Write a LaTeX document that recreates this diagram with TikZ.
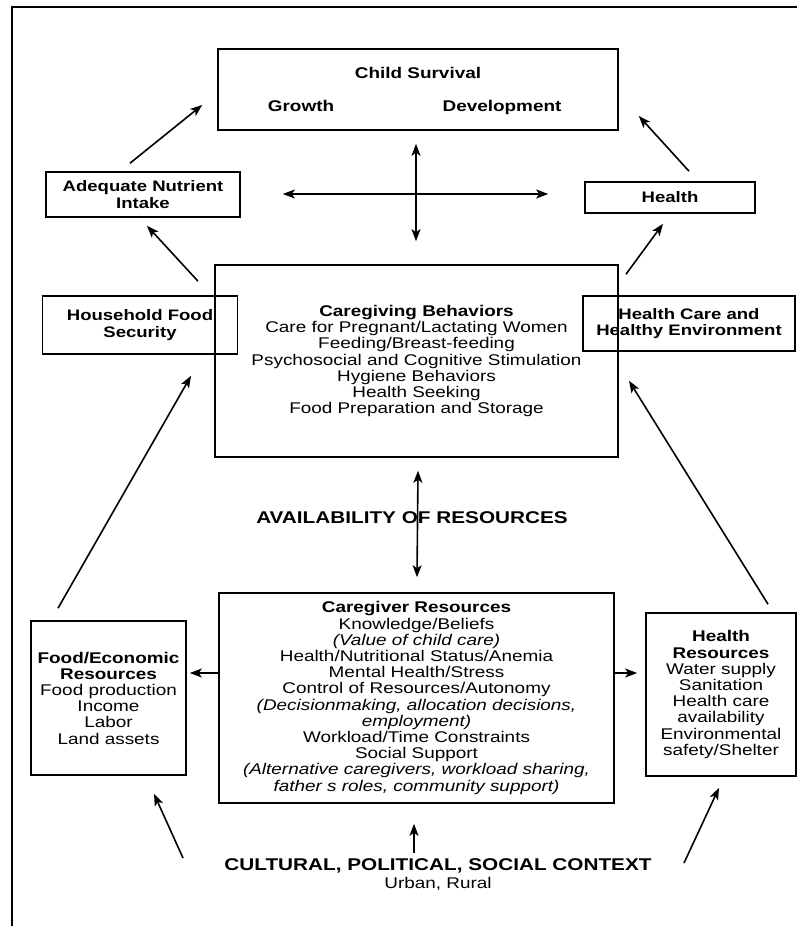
\documentclass[tikz,border=0pt]{standalone}
\usepackage{fontspec}
\setmainfont{Liberation Sans}[FakeStretch=1.22]
\usetikzlibrary{arrows.meta, positioning}
\newcommand\boxfont{\fontsize{15.5}{16.2}\selectfont}
\newcommand\bigfont{\fontsize{17}{19}\selectfont\bfseries}

\begin{document}
\begin{tikzpicture}[x=1pt, y=-1pt,
    >={Stealth[length=12pt, width=9pt, inset=3pt]},
    box/.style={draw, line width=1.6pt, inner sep=0pt, align=center, font=\boxfont},
    boldbox/.style={box, font=\fontsize{15.2}{16.2}\selectfont\bfseries},
    txt/.style={inner sep=0pt, anchor=base, font=\boxfont\bfseries},
    link/.style={->, line width=1.6pt}]

  \useasboundingbox (0,0) rectangle (797,926);

  % frame
  \draw[line width=1.6pt] (12,926) -- (12,7) -- (797,7);

  % outcomes
  \node[box, minimum width=400pt, minimum height=81pt] (child) at (418,89.5) {};
  \node[txt] (survival) at (418,78) {Child Survival};
  \node[txt] (growth) at (301,111) {Growth};
  \node[txt] (develop) at (502,111) {Development};

  \node[boldbox, minimum width=194pt, minimum height=45pt] (intake) at (143,194.5)
        {Adequate Nutrient\\Intake};
  \node[boldbox, minimum width=170pt, minimum height=31pt] (health) at (670,197.5)
        {Health};

  % caregiving behaviors and its neighbours
  \node[boldbox, minimum width=195pt, minimum height=58pt] (foodsec) at (140,325)
        {Household Food\\Security};
  \node[box, minimum width=403pt, minimum height=192pt] (behav) at (416.5,361)
        {\textbf{Caregiving Behaviors}\\
         Care for Pregnant/Lactating Women\\
         Feeding/Breast-feeding\\
         Psychosocial and Cognitive Stimulation\\
         Hygiene Behaviors\\
         Health Seeking\\
         Food Preparation and Storage};
  \node[boldbox, minimum width=212pt, minimum height=55pt] (healthenv) at (689,323.5)
        {Health Care and\\Healthy Environment};

  \node[inner sep=0pt, font=\bigfont] (avail) at (412,518) {AVAILABILITY OF RESOURCES};

  % resources
  \node[box, minimum width=155pt, minimum height=154pt] (food) at (108.5,698)
        {\textbf{Food/Economic}\\
         \textbf{Resources}\\
         Food production\\
         Income\\
         Labor\\
         Land assets};
  \node[box, minimum width=395pt, minimum height=210pt] (giver) at (416.5,698)
        {\textbf{Caregiver Resources}\\
         Knowledge/Beliefs\\
         \textit{(Value of child care)}\\
         Health/Nutritional Status/Anemia\\
         Mental Health/Stress\\
         Control of Resources/Autonomy\\
         \textit{(Decisionmaking, allocation decisions,}\\
         \textit{employment)}\\
         Workload/Time Constraints\\
         Social Support\\
         \textit{(Alternative caregivers, workload sharing,}\\
         \textit{father s roles, community support)}};
  \node[box, minimum width=150pt, minimum height=163pt] (hres) at (721,694.5)
        {\textbf{Health}\\
         \textbf{Resources}\\
         Water supply\\
         Sanitation\\
         Health care\\
         availability\\
         Environmental\\
         safety/Shelter};

  % context
  \node[inner sep=0pt, font=\bigfont] (context) at (438,866)
        {CULTURAL, POLITICAL, SOCIAL CONTEXT};
  \node[inner sep=0pt, font=\boxfont, below=4pt of context] (setting) {Urban, Rural};

  % arrows up to the outcomes
  \draw[link] ([shift={(-13,-8)}]intake.north) -- ([shift={(-15,15.5)}]child.west);
  \draw[link] ([shift={(19,-10)}]health.north) -- ([shift={(20,26.5)}]child.east);
  \draw[link] ([shift={(58,-14)}]foodsec.north) -- ([shift={(4,8)}]intake.south);
  \draw[link] ([shift={(-63,-21)}]healthenv.north) -- ([shift={(-7,10)}]health.south);
  \draw[link] ([shift={(-50.5,-12)}]food.north) -- ([shift={(51,21)}]foodsec.south);
  \draw[link] ([shift={(47,-8)}]hres.north) -- ([shift={(-60,29)}]healthenv.south);

  % double arrows
  \draw[link, <->] ([shift={(42,-0.5)}]intake.east) -- ([shift={(-36,-3.5)}]health.west);
  \draw[link, <->] ([shift={(-2,13)}]child.south) -- ([shift={(-0.5,-23)}]behav.north);
  \draw[link, <->] ([shift={(1.5,13)}]behav.south) -- ([shift={(0.5,-15)}]giver.north);

  % caregiver resources out to the sides
  \draw[link] ([shift={(0,-25)}]giver.west) -- ([shift={(3,-25)}]food.east);
  \draw[link] ([shift={(0,-25)}]giver.east) -- ([shift={(-8,-21.5)}]hres.west);

  % context up to the resources
  \draw[link] ([shift={(-255,-8)}]context.center) -- ([shift={(45.5,18)}]food.south);
  \draw[link] ([shift={(-24,-13)}]context.center) -- ([shift={(-2.5,20)}]giver.south);
  \draw[link] ([shift={(246,-3)}]context.center) -- ([shift={(-2,11)}]hres.south);

\end{tikzpicture}
\end{document}
